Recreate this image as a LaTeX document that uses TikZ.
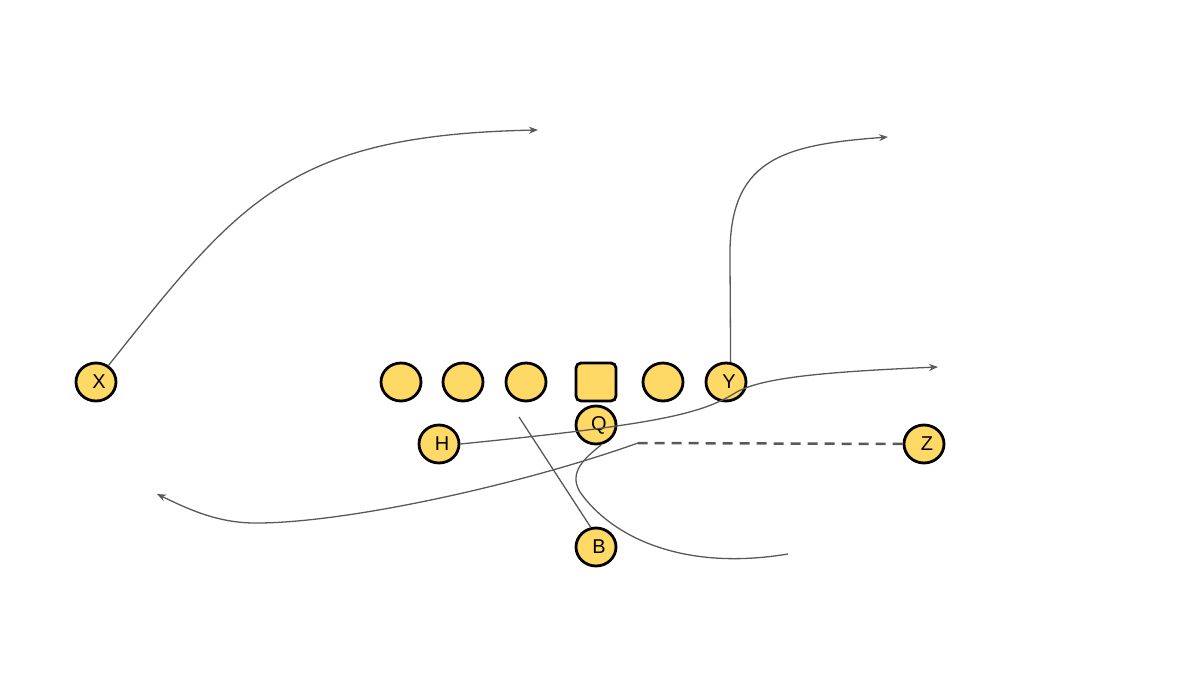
\documentclass[tikz,border=0pt]{standalone}
\usepackage{fontspec}
\setmainfont{Liberation Sans}
\usetikzlibrary{shapes.geometric,arrows.meta}
\definecolor{playerfill}{HTML}{FFD966}
\definecolor{routegray}{HTML}{595959}
\tikzset{
  player/.style={ellipse, draw=black, line width=2.8pt, fill=playerfill,
    minimum width=40pt, minimum height=38pt, inner sep=0pt,
    font=\fontsize{20}{20}\selectfont, execute at begin node={\kern6pt}},
  center/.style={rectangle, rounded corners=5pt, draw=black, line width=2.8pt,
    fill=playerfill, minimum width=40pt, minimum height=38pt, inner sep=0pt},
  route/.style={draw=routegray, line width=1.3pt},
  arrowroute/.style={route, -{Stealth[length=9pt,width=7pt]}},
  motion/.style={draw=routegray, line width=2.5pt, dash pattern=on 10pt off 7pt}
}
\begin{document}
\begin{tikzpicture}[x=1pt,y=-1pt]
\useasboundingbox (0,0) rectangle (1200,676);
% players
\node[player] (X) at (96,382) {X};
\node[player] (L1) at (401,382) {};
\node[player] (L2) at (463,382) {};
\node[player] (L3) at (526,382) {};
\node[center] (C) at (596,382) {};
\node[player] (L4) at (663,382) {};
\node[player] (Y) at (726,382) {Y};
\node[player] (Q) at (596,425) {Q};
\node[player] (H) at (439,444) {H};
\node[player] (Z) at (924,444) {Z};
\node[player] (B) at (596,547) {B};
% free ends
\coordinate (xend) at (538,130);
\coordinate (yend) at (888,137);
\coordinate (hend) at (938,367);
\coordinate (zbreak) at (638,443);
\coordinate (zend) at (157,494);
\coordinate (bend) at (519,417);
\coordinate (qend) at (788,554);
% routes
\draw[arrowroute] (X.53) .. controls (240,200) and (290,135) .. (xend);
\draw[arrowroute] (Y.77) -- (730,260) .. controls (728,160) and (780,145) .. (yend);
\draw[arrowroute] (H.east) .. controls (650,425) and (700,415) .. (735,393)
  .. controls (760,378) and (820,372) .. (hend);
\draw[motion] (Z.west) -- (zbreak);
\draw[arrowroute] (zbreak) .. controls (520,485) and (350,522) .. (260,523)
  .. controls (220,524) and (190,510) .. (zend);
\draw[route] (B.105) -- (bend);
\draw[route] (Q.-75) .. controls (585,458) and (568,472) .. (580,492)
  .. controls (610,535) and (680,572) .. (qend);
\end{tikzpicture}
\end{document}
